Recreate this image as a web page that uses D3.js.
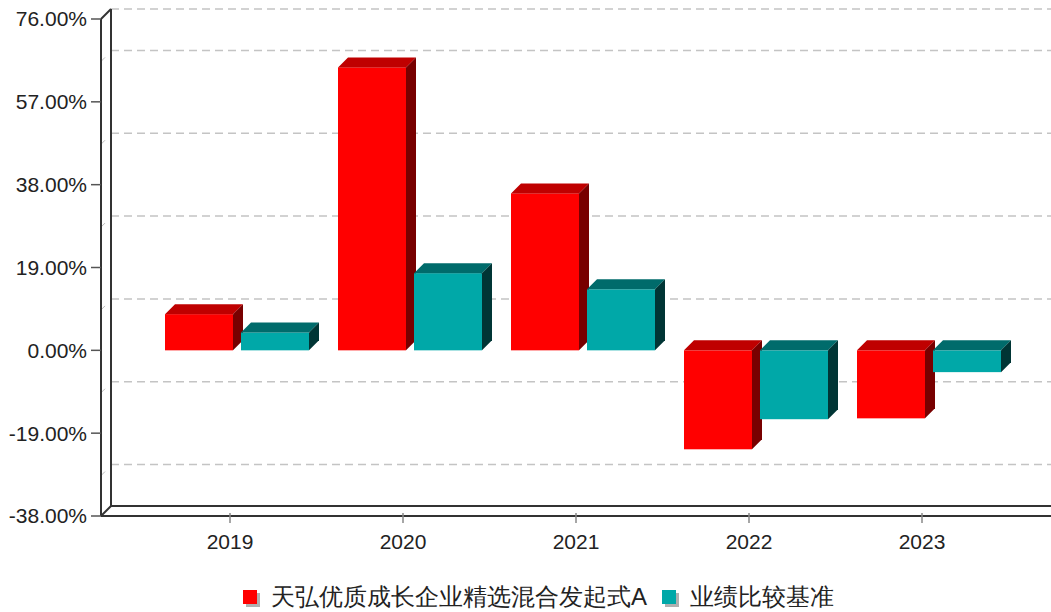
<!DOCTYPE html>
<html>
<head>
<meta charset="utf-8">
<script src="https://cdn.jsdelivr.net/npm/d3@7"></script>
<style>
  body { margin: 0; background: #fff; }
  svg { display: block; }
  text { font-family: "Liberation Sans", Arial, sans-serif; }
</style>
</head>
<body>
<svg id="chart" width="1051" height="612"></svg>
<script>
// data
var years = ["2019", "2020", "2021", "2022", "2023"];
var fundValues = [8.3, 64.9, 36.0, -22.7, -15.6];
var benchValues = [4.1, 17.7, 14.0, -15.8, -5.0];
var seriesNames = ["天弘优质成长企业精选混合发起式A", "业绩比较基准"];
var yTicks = [-38, -19, 0, 19, 38, 57, 76];
var gridValues = [-28.5, -9.5, 9.5, 28.5, 47.5, 66.5];

var depth = 10;
var svg = d3.select("#chart");

// scales
var xScale = d3.scaleBand().domain(years).range([143.5, 1008.5]);
var yScale = d3.scaleLinear().domain([-38, 76]).range([516, 19]);
var xLeft = 101, xRight = 1051;

// grid lines on the back wall
svg.append("g").selectAll("line")
  .data(gridValues)
  .enter().append("line")
  .attr("x1", xLeft + depth).attr("x2", xRight)
  .attr("y1", d => yScale(d) - depth).attr("y2", d => yScale(d) - depth)
  .attr("stroke", "#c4c4c4").attr("stroke-width", 1.5)
  .attr("stroke-dasharray", "8,5");
// top line of back wall
svg.append("line")
  .attr("x1", xLeft + depth).attr("x2", xRight)
  .attr("y1", yScale(76) - depth).attr("y2", yScale(76) - depth)
  .attr("stroke", "#c4c4c4").attr("stroke-width", 1.5)
  .attr("stroke-dasharray", "8,5");
// little marks where the grid meets the front axis
svg.append("g").selectAll("line")
  .data(gridValues)
  .enter().append("line")
  .attr("x1", xLeft).attr("x2", xLeft + 4)
  .attr("y1", d => yScale(d) + 1).attr("y2", d => yScale(d) - 3)
  .attr("stroke", "#bbb").attr("stroke-width", 1);

// walls / axis frame
var axisColor = "#333";
var yTop = yScale(76), yBot = yScale(-38);
var frame = svg.append("g").attr("stroke", axisColor).attr("stroke-width", 2).attr("fill", "none");
frame.append("line").attr("x1", xLeft).attr("x2", xLeft).attr("y1", yTop).attr("y2", yBot);
frame.append("line").attr("x1", xLeft + depth).attr("x2", xLeft + depth).attr("y1", yTop - depth).attr("y2", yBot - depth);
frame.append("line").attr("x1", xLeft).attr("x2", xLeft + depth).attr("y1", yTop).attr("y2", yTop - depth);
frame.append("line").attr("x1", xLeft).attr("x2", xRight).attr("y1", yBot).attr("y2", yBot);
frame.append("line").attr("x1", xLeft + depth).attr("x2", xRight).attr("y1", yBot - depth).attr("y2", yBot - depth);
frame.append("line").attr("x1", xLeft).attr("x2", xLeft + depth).attr("y1", yBot).attr("y2", yBot - depth);

// y axis ticks and labels
var yAx = svg.append("g");
yAx.selectAll("line").data(yTicks).enter().append("line")
  .attr("x1", xLeft - 10).attr("x2", xLeft)
  .attr("y1", d => yScale(d)).attr("y2", d => yScale(d))
  .attr("stroke", "#555").attr("stroke-width", 1.5);
yAx.selectAll("text").data(yTicks).enter().append("text")
  .attr("x", xLeft - 14).attr("y", d => yScale(d))
  .attr("dy", "0.35em")
  .attr("text-anchor", "end")
  .attr("font-size", 21)
  .attr("fill", "#222")
  .text(d => d.toFixed(2) + "%");

// x axis ticks and labels
var xAx = svg.append("g");
xAx.selectAll("line").data(years).enter().append("line")
  .attr("x1", d => xScale(d) + xScale.bandwidth() / 2)
  .attr("x2", d => xScale(d) + xScale.bandwidth() / 2)
  .attr("y1", yBot - 3).attr("y2", yBot + 7)
  .attr("stroke", "#888").attr("stroke-width", 1.5);
xAx.selectAll("text").data(years).enter().append("text")
  .attr("x", d => xScale(d) + xScale.bandwidth() / 2)
  .attr("y", 549)
  .attr("text-anchor", "middle")
  .attr("font-size", 21)
  .attr("fill", "#222")
  .text(d => d);

// 3d bars
var barW = 68;
var colors = [
  {front: "#ff0000", top: "#bf0000", side: "#780000"},
  {front: "#00a8a8", top: "#006b6b", side: "#003535"}
];
var offsets = [-65, 11];

function drawBar(g, x, v, c) {
  var y0 = yScale(0), y1 = yScale(v);
  var t = Math.min(y0, y1), b = Math.max(y0, y1);
  g.append("rect").attr("x", x).attr("y", t).attr("width", barW).attr("height", b - t)
    .attr("fill", c.front);
  g.append("path")
    .attr("d", "M" + x + "," + t + "L" + (x + depth) + "," + (t - depth) +
      "L" + (x + barW + depth) + "," + (t - depth) + "L" + (x + barW) + "," + t + "Z")
    .attr("fill", c.top);
  g.append("path")
    .attr("d", "M" + (x + barW) + "," + t + "L" + (x + barW + depth) + "," + (t - depth) +
      "L" + (x + barW + depth) + "," + (b - depth) + "L" + (x + barW) + "," + b + "Z")
    .attr("fill", c.side);
}

var bars = svg.append("g");
years.forEach(function(yr, i) {
  var cx = xScale(yr) + xScale.bandwidth() / 2;
  drawBar(bars, cx + offsets[0], fundValues[i], colors[0]);
  drawBar(bars, cx + offsets[1], benchValues[i], colors[1]);
});

// legend
var legend = svg.append("g");
var legendX = [243, 662];
seriesNames.forEach(function(name, i) {
  legend.append("rect").attr("x", legendX[i] + 3).attr("y", 593).attr("width", 14).attr("height", 14)
    .attr("fill", "#b0b0b0");
  legend.append("rect").attr("x", legendX[i]).attr("y", 590).attr("width", 14).attr("height", 14)
    .attr("fill", colors[i].front);
  legend.append("text").attr("x", legendX[i] + 28).attr("y", 605)
    .attr("font-size", 24)
    .attr("font-family", "'Noto Sans CJK SC', sans-serif")
    .attr("fill", "#222")
    .text(name);
});
</script>
</body>
</html>
